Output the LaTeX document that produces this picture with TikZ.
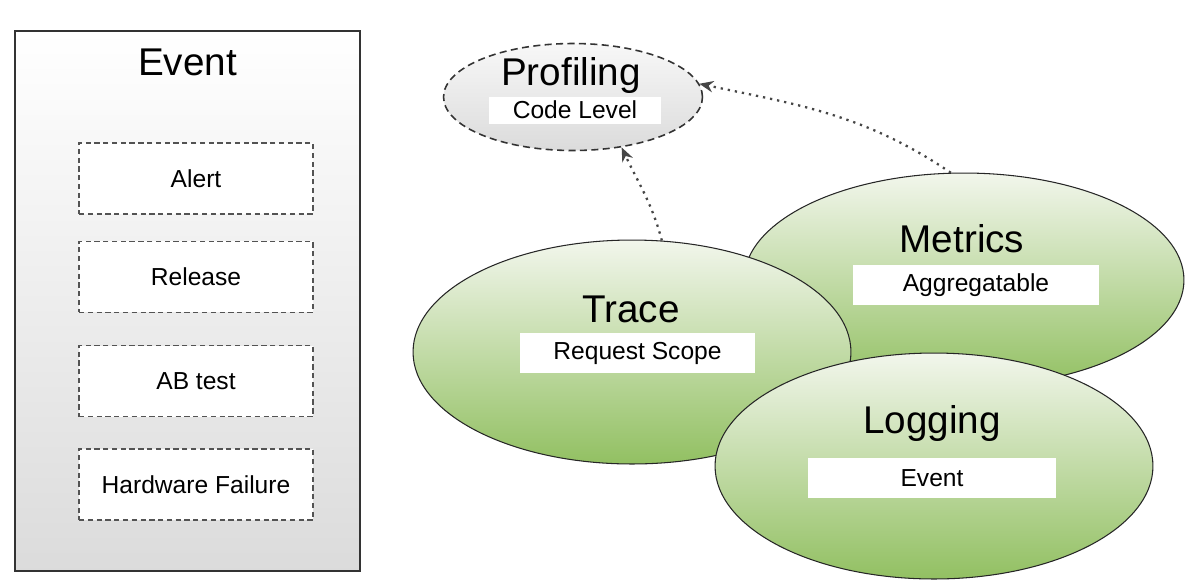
\documentclass[tikz,border=0pt]{standalone}
\usepackage{fontspec}
\setmainfont{Liberation Sans}
\usetikzlibrary{positioning,shapes.geometric,arrows.meta}

\definecolor{leafgreen}{RGB}{146,192,98}
\definecolor{leaftop}{RGB}{242,246,236}

\tikzset{
	bigtext/.style={font=\fontsize{22}{26}\selectfont, anchor=base},
	labelbox/.style={fill=white, inner sep=0pt, minimum height=0.8cm, font=\fontsize{14}{17}\selectfont},
	eventitem/.style={draw=gray!65!black, line width=0.8pt, dash pattern=on 3pt off 2pt, fill=white, minimum width=4.68cm, minimum height=1.42cm, font=\fontsize{14}{17}\selectfont},
	bubble/.style={ellipse, draw=black!85, line width=0.6pt, top color=leaftop, bottom color=leafgreen, inner sep=0pt},
	dotarrow/.style={draw=gray!55!black, line width=1.3pt, dash pattern=on 1.3pt off 2.8pt, -{Stealth[length=8pt,width=6.5pt]}}
}

\begin{document}
\begin{tikzpicture}[x=0.02cm, y=-0.02cm]
				\useasboundingbox (0,0) rectangle (1190,586);

				\node (event) [draw=gray!40!black, line width=1pt, top color=white, bottom color=gray!28, minimum width=6.9cm, minimum height=10.8cm] at (187.5,301) {};
				\node (eventtitle) [bigtext] at (187.5,75) {Event};
				\node (alert) [eventitem] at (196,178.5) {Alert};
				\node (release) [eventitem, below=0.52cm of alert] {Release};
				\node (abtest) [eventitem, below=0.64cm of release] {AB test};
				\node (hwfail) [eventitem, below=0.62cm of abtest] {Hardware Failure};

				\node (profiling) [ellipse, draw=black!80, line width=0.9pt, dash pattern=on 4pt off 2.5pt, top color=gray!6, bottom color=gray!28, inner sep=0pt, minimum width=5.18cm, minimum height=2.14cm] at (573,97) {};
				\node (proftitle) [bigtext] at (571,85) {Profiling};
				\node (codelevel) [labelbox, minimum width=3.46cm, minimum height=0.54cm] at (575,110) {Code Level};

				\node (metrics) [bubble, minimum width=8.8cm, minimum height=4.28cm] at (964,280) {};
				\node (metricstitle) [bigtext] at (962,252) {Metrics};
				\node (aggr) [labelbox, minimum width=4.92cm] at (976,285) {Aggregatable};

				\node (trace) [bubble, minimum width=8.76cm, minimum height=4.48cm] at (632,352) {};
				\node (tracetitle) [bigtext] at (631,322) {Trace};
				\node (scope) [labelbox, minimum width=4.7cm] at (637.5,353) {Request Scope};

				\node (logging) [bubble, minimum width=8.76cm, minimum height=4.52cm] at (934,466) {};
				\node (loggingtitle) [bigtext] at (932,433) {Logging};
				\node (logevent) [labelbox, minimum width=4.96cm] at (932,478) {Event};

				% Arrows
				\draw[dotarrow] (trace.75) to[out=105, in=-65] (profiling.-46);
				\draw[dotarrow] (metrics.97) to[out=146, in=-12] (profiling.6);
			\end{tikzpicture}
\end{document}
